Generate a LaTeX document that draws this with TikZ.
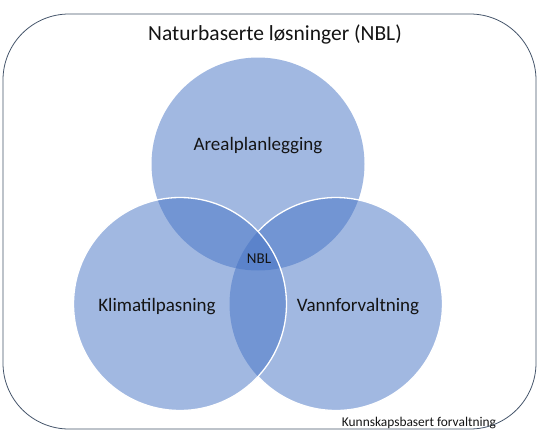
\documentclass[tikz,border=0pt]{standalone}
\usepackage{fontspec}
\setmainfont{Carlito}
\usepackage{xcolor}
\definecolor{nblblue}{HTML}{4472C4}
\definecolor{nblframe}{HTML}{44546A}

\begin{document}
\begin{tikzpicture}[x=1pt,y=-1pt,
	venn/.style={fill=nblblue,fill opacity=0.5},
	rim/.style={draw=white,line width=1.3pt},
	lbl/.style={text=black!92,inner sep=0pt,anchor=base}]
	\useasboundingbox (0,0) rectangle (542,440);

	% frame
	\draw[nblframe,line width=0.8pt,rounded corners=66pt] (3,14) rectangle (536,429);

	% circles (top, right, left)
	\fill[venn] (258,164) circle (106.5);
	\fill[venn] (336,304) circle (106.5);
	\draw[rim] (336,304) ++(-137.1:106.5) arc[start angle=-137.1,end angle=137.1,radius=106.5];
	\filldraw[venn,rim] (180,304) circle (106.5);

	% labels
	\node[lbl] (title) at (275,40) {\fontsize{21.5pt}{0}\selectfont Naturbaserte løsninger (NBL)};
	\node[lbl] (areal) at (258,150) {\fontsize{19pt}{0}\selectfont Arealplanlegging};
	\node[lbl] (klima) at (157,311.5) {\fontsize{19pt}{0}\selectfont Klimatilpasning};
	\node[lbl] (vann) at (358,311.5) {\fontsize{19pt}{0}\selectfont Vannforvaltning};
	\node[lbl] (nbl) at (259,263) {\fontsize{15pt}{0}\selectfont NBL};
	\node[lbl] (kunnskap) at (419,426) {\fontsize{13.4pt}{0}\selectfont Kunnskapsbasert forvaltning};

\end{tikzpicture}
\end{document}
